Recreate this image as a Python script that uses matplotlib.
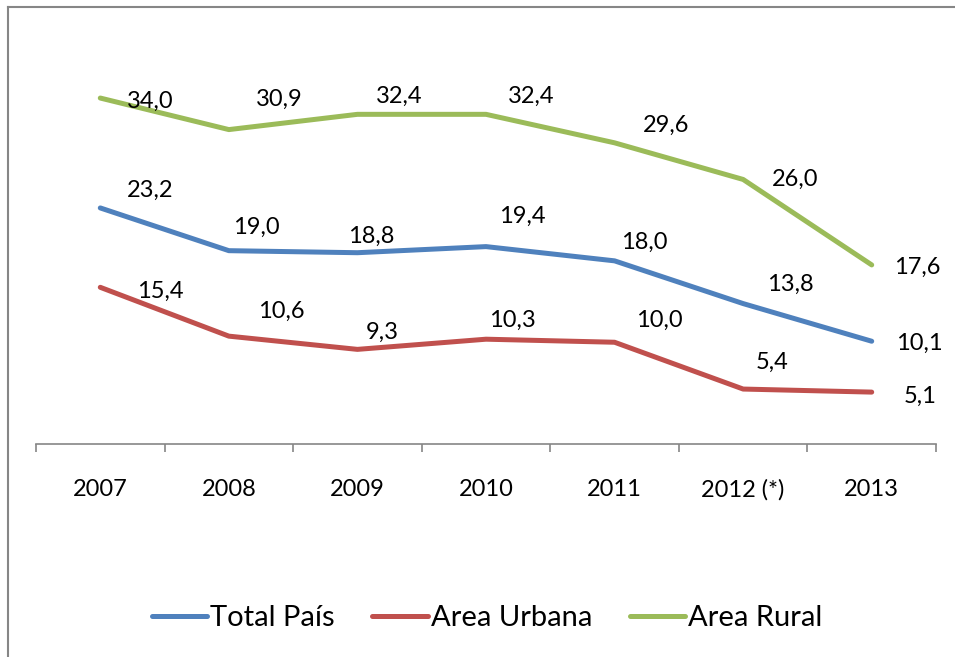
import matplotlib
matplotlib.use("Agg")
import matplotlib.pyplot as plt
from matplotlib.lines import Line2D

plt.rcParams["font.family"] = ["Lato", "DejaVu Sans"]

years = ["2007", "2008", "2009", "2010", "2011", "2012 (*)", "2013"]
total_pais = [23.2, 19.0, 18.8, 19.4, 18.0, 13.8, 10.1]
area_urbana = [15.4, 10.6, 9.3, 10.3, 10.0, 5.4, 5.1]
area_rural = [34.0, 30.9, 32.4, 32.4, 29.6, 26.0, 17.6]

# label offsets (pixels, right/up)
off_total = [(50, 18), (27, 23), (14, 16), (36, 30), (30, 19), (47, 19), (48, -2)]
off_urbana = [(60, -4), (52, 25), (25, 17), (26, 19), (45, 22), (29, 27), (48, -4)]
off_rural = [(50, -3), (50, 30), (42, 18), (45, 18), (52, 17), (52, 0), (46, -2)]

series = [
    ("Total País", total_pais, "#4F81BD", off_total),
    ("Area Urbana", area_urbana, "#C0504D", off_urbana),
    ("Area Rural", area_rural, "#9BBB59", off_rural),
]

W, H, DPI = 955, 657, 100
fig = plt.figure(figsize=(W / DPI, H / DPI), dpi=DPI)
ax = fig.add_axes([36 / W, 1 - 444 / H, 900 / W, 407 / H])

x = list(range(len(years)))
handles = []
for name, vals, color, offs in series:
    (ln,) = ax.plot(x, vals, color=color, lw=3.6, solid_capstyle="round",
                    solid_joinstyle="round", label=name)
    handles.append(ln)
    for xi, v, (dx, dy) in zip(x, vals, offs):
        ax.annotate(f"{v:.1f}".replace(".", ","), (xi, v),
                    xytext=(dx * 0.72, dy * 0.72), textcoords="offset points",
                    ha="center", va="center", fontsize=17, color="black")

ax.set_xlim(-0.5, len(years) - 0.5)
ax.set_ylim(0, 40)
ax.set_yticks([])
for s in ["top", "right", "left"]:
    ax.spines[s].set_visible(False)
ax.spines["bottom"].set_color("#868686")
ax.spines["bottom"].set_linewidth(1.2)
ax.set_xticks(x)
ax.set_xticklabels(years, fontsize=17)
ax.set_xticks([i - 0.5 for i in range(len(years) + 1)], minor=True)
ax.tick_params(axis="x", which="major", length=0, pad=25)
ax.tick_params(axis="x", which="minor", length=6, width=1.2, color="#868686")

# chart frame (left and top edges visible)
fig.add_artist(Line2D([8 / W, 8 / W], [0, 1 - 7 / H], color="#868686", lw=1.5))
fig.add_artist(Line2D([8 / W, 1], [1 - 7 / H, 1 - 7 / H], color="#868686", lw=1.5))

fig.legend(handles=handles, loc="center", bbox_to_anchor=(0.51, 1 - 618 / H),
           ncol=3, frameon=False, fontsize=21, handlelength=1.9,
           handletextpad=0.1, columnspacing=1.3)

fig.savefig("out.png", dpi=DPI)
